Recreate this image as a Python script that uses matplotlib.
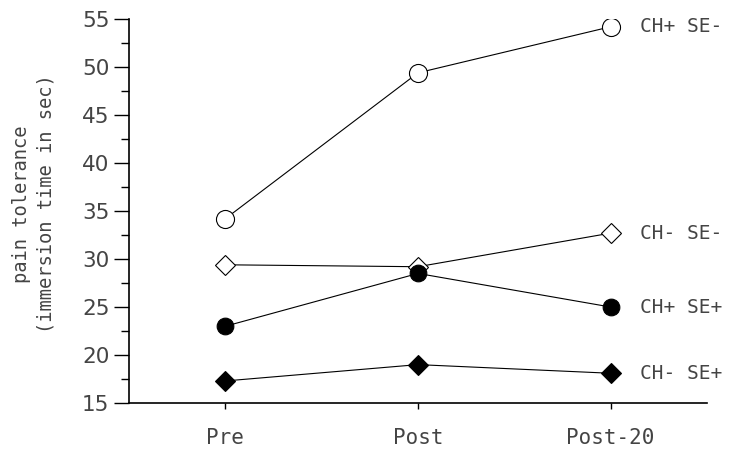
import matplotlib
matplotlib.use("Agg")
import matplotlib.pyplot as plt
from matplotlib.ticker import MultipleLocator

categories = ["Pre", "Post", "Post-20"]
series_names = ["CH+ SE-", "CH- SE-", "CH+ SE+", "CH- SE+"]
ch_pos_se_neg = [34.2, 49.4, 54.2]
ch_neg_se_neg = [29.4, 29.2, 32.7]
ch_pos_se_pos = [23.0, 28.5, 25.0]
ch_neg_se_pos = [17.3, 19.0, 18.1]
yticks = [15, 20, 25, 30, 35, 40, 45, 50, 55]

TXT = "#444444"
MONO = "DejaVu Sans Mono"

fig = plt.figure(figsize=(7.38, 4.54), dpi=100)
ax = fig.add_axes([0.1748, 0.1123, 0.958 - 0.1748, 0.958 - 0.1123])

x = list(range(len(categories)))
styles = [
    (ch_pos_se_neg, "o", "white", 13),
    (ch_neg_se_neg, "D", "white", 10),
    (ch_pos_se_pos, "o", "black", 12),
    (ch_neg_se_pos, "D", "black", 10),
]
for (vals, m, fc, ms), name in zip(styles, series_names):
    ax.plot(x, vals, color="black", lw=0.8, marker=m, markersize=ms,
            markerfacecolor=fc, markeredgecolor="black", markeredgewidth=0.8)
    ax.text(x[-1] + 0.15, vals[-1], name, va="center", ha="left",
            fontsize=14, color=TXT, family=MONO)

ax.set_xlim(-0.5, 2.5)
ax.set_ylim(15, 55)
ax.set_xticks(x)
ax.set_xticklabels(categories, fontsize=15, color=TXT, family=MONO)
ax.set_yticks(yticks)
ax.set_yticklabels([str(v) for v in yticks], fontsize=15.5, color=TXT)
ax.yaxis.set_minor_locator(MultipleLocator(2.5))
ax.tick_params(axis="y", which="major", length=11, width=1, direction="out", pad=3)
ax.tick_params(axis="y", which="minor", length=6, width=1, direction="out")
ax.tick_params(axis="x", which="major", length=4, width=1, direction="out", pad=14)
for s in ["top", "right"]:
    ax.spines[s].set_visible(False)
ax.spines["left"].set_linewidth(1.2)
ax.spines["bottom"].set_linewidth(1.2)
fig.text(34 / 738, 1 - 204 / 454, "pain tolerance\n(immersion time in sec)",
         rotation=90, ha="center", va="center", fontsize=13.5, color=TXT,
         family=MONO, linespacing=1.35, multialignment="center")

fig.savefig("out.png", dpi=100)
